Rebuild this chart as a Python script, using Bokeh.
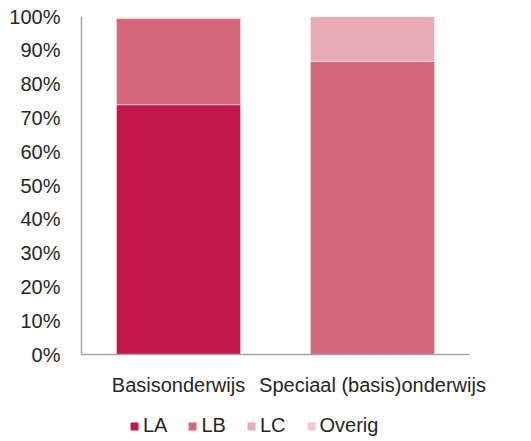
from bokeh.plotting import figure
from bokeh.layouts import column
from bokeh.models import FactorRange, Range1d, FixedTicker, NumeralTickFormatter, Legend, LegendItem
from bokeh.embed import file_html
from bokeh.resources import INLINE

categories = ["Basisonderwijs", "Speciaal (basis)onderwijs"]
series = ["LA", "LB", "LC", "Overig"]
LA = [0.739, 0.0]
LB = [0.255, 0.867]
LC = [0.003, 0.133]
Overig = [0.003, 0.0]
colors = ["#C4174E", "#D5677B", "#E8ABB3", "#F3C8CF"]
y_ticks = [0.0, 0.1, 0.2, 0.3, 0.4, 0.5, 0.6, 0.7, 0.8, 0.9, 1.0]

data = dict(cat=categories, LA=LA, LB=LB, LC=LC, Overig=Overig)
font = "Liberation Sans"

p = figure(x_range=FactorRange(*categories, range_padding=0), y_range=Range1d(0, 1),
           width=531, height=400, output_backend="svg", toolbar_location=None,
           min_border_left=81, min_border_right=62, min_border_top=16, min_border_bottom=46)

p.vbar_stack(series, x="cat", width=0.64, source=data, fill_color=colors,
             line_color="white", line_alpha=0.45, line_width=1)

p.xgrid.visible = False
p.ygrid.visible = False
p.outline_line_color = None

for ax in (p.xaxis[0], p.yaxis[0]):
    ax.axis_line_color = "#A6A6A6"
    ax.axis_line_width = 1.5
    ax.major_tick_line_color = None
    ax.minor_tick_line_color = None
    ax.major_label_text_font = font
    ax.major_label_text_font_size = "20px"
    ax.major_label_text_color = "#262626"

p.yaxis[0].ticker = FixedTicker(ticks=y_ticks)
p.yaxis[0].formatter = NumeralTickFormatter(format="0%")
p.yaxis[0].major_label_standoff = 15
p.xaxis[0].major_label_standoff = 13

# legend strip below the chart
lg = figure(x_range=FactorRange(*categories), y_range=Range1d(5, 6),
            width=531, height=41, output_backend="svg", toolbar_location=None,
            min_border_left=0, min_border_right=0, min_border_top=0, min_border_bottom=0)
lg.axis.visible = False
lg.grid.visible = False
lg.outline_line_color = None
lrs = lg.vbar_stack(series, x="cat", width=0.64, source=data, fill_color=colors, line_color=None)

items = [LegendItem(label=s, renderers=[r]) for s, r in zip(series, lrs)]
legend = Legend(items=items, orientation="horizontal", location=(48, 4),
                glyph_width=10, glyph_height=10, label_standoff=4, spacing=20,
                label_text_font=font, label_text_font_size="20px", label_text_color="#262626",
                border_line_color=None, background_fill_alpha=0, padding=4, margin=0)
lg.add_layout(legend, "center")

layout = column(p, lg, spacing=0)
open("out.html", "w").write(file_html(layout, INLINE))
